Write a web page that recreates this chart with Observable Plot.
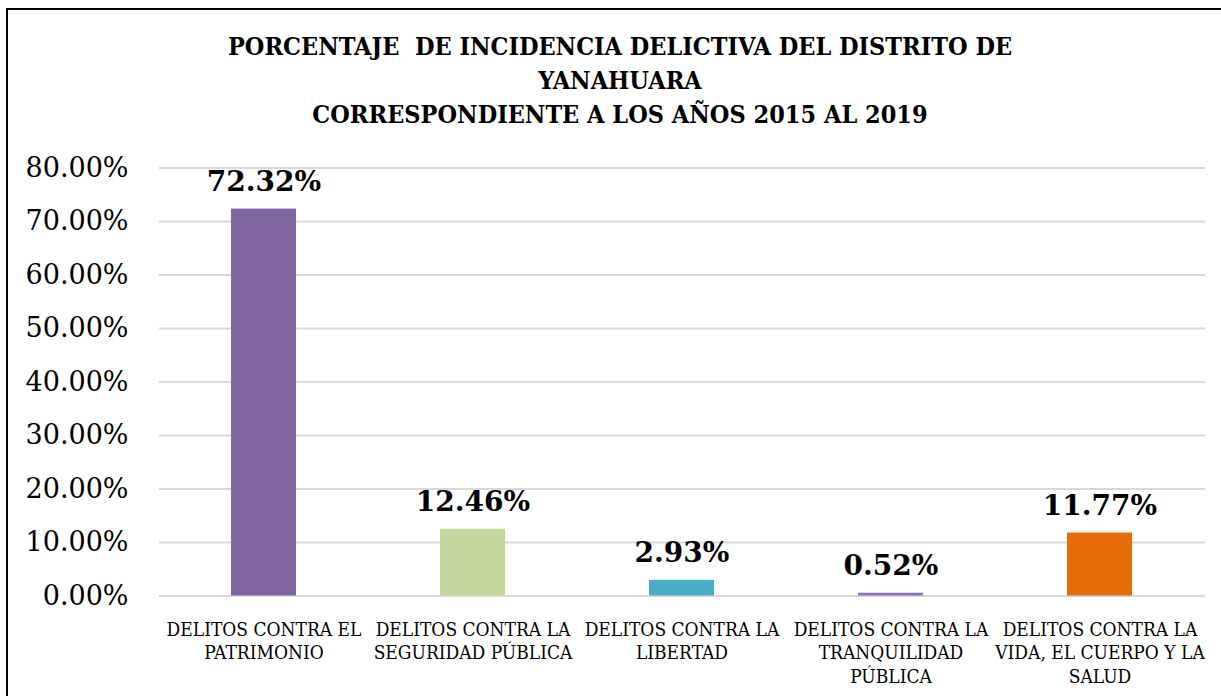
<!DOCTYPE html>
<html>
<head>
<meta charset="utf-8">
<script src="https://cdn.jsdelivr.net/npm/d3@7"></script>
<script src="https://cdn.jsdelivr.net/npm/@observablehq/plot@0.6"></script>
<style>
  html, body { margin: 0; padding: 0; background: #fff; }
  body { width: 1221px; height: 696px; overflow: hidden; position: relative; font-family: "DejaVu Serif", serif; }
  #frame { position: absolute; left: 6px; top: 8px; width: 1300px; height: 800px; border: 2px solid #000; box-sizing: border-box; z-index: 10; pointer-events: none; background: transparent; }
  #title { position: absolute; left: 0; top: 30px; width: 1240px; text-align: center; font-weight: bold; font-size: 25px; line-height: 34px; color: #000; font-stretch: condensed; }
  #chart { position: absolute; left: 0; top: 140px; }
  #chart svg g[aria-label="x-axis tick label"] text { font-stretch: condensed; }
</style>
</head>
<body>
<div id="title">PORCENTAJE&nbsp; DE INCIDENCIA DELICTIVA DEL DISTRITO DE<br>YANAHUARA<br>CORRESPONDIENTE A LOS AÑOS 2015 AL 2019</div>
<div id="chart"></div>
<div id="frame"></div>
<script>
const categories = [
  "DELITOS CONTRA EL\nPATRIMONIO",
  "DELITOS CONTRA LA\nSEGURIDAD PÚBLICA",
  "DELITOS CONTRA LA\nLIBERTAD",
  "DELITOS CONTRA LA\nTRANQUILIDAD\nPÚBLICA",
  "DELITOS CONTRA LA\nVIDA, EL CUERPO Y LA\nSALUD"
];
const values = [72.32, 12.46, 2.93, 0.52, 11.77];
const colors = ["#8064A2", "#C3D69B", "#4BACC6", "#8E72B8", "#E46C0A"];
const yTicks = [0, 10, 20, 30, 40, 50, 60, 70, 80];

const data = categories.map((c, i) => ({category: c, value: values[i]}));

const chart = Plot.plot({
  width: 1221,
  height: 556,
  marginLeft: 159,
  marginRight: 16,
  marginTop: 27.5,
  marginBottom: 100.5,
  style: {fontFamily: "DejaVu Serif, serif", background: "transparent", color: "#000"},
  x: {domain: categories, paddingInner: 0.687, paddingOuter: 0.3435, label: null},
  y: {domain: [0, 80], label: null},
  color: {domain: categories, range: colors},
  marks: [
    Plot.gridY(yTicks, {stroke: "#d9d9d9", strokeOpacity: 1, strokeWidth: 2}),
    Plot.axisY(yTicks, {tickSize: 0, tickPadding: 31, fontSize: 27, tickFormat: d => d.toFixed(2) + "%", label: null, fill: "#000"}),
    Plot.axisX({tickSize: 0, tickPadding: 22.5, fontSize: 19, lineHeight: 1.26, label: null, fill: "#000"}),
    Plot.barY(data, {x: "category", y: "value", fill: "category"}),
    Plot.text(data, {x: "category", y: "value", text: d => d.value.toFixed(2) + "%", lineAnchor: "bottom", dy: -18, fontSize: 28, fontWeight: "bold", fill: "#000"})
  ]
});
document.getElementById("chart").appendChild(chart);
</script>
</body>
</html>
